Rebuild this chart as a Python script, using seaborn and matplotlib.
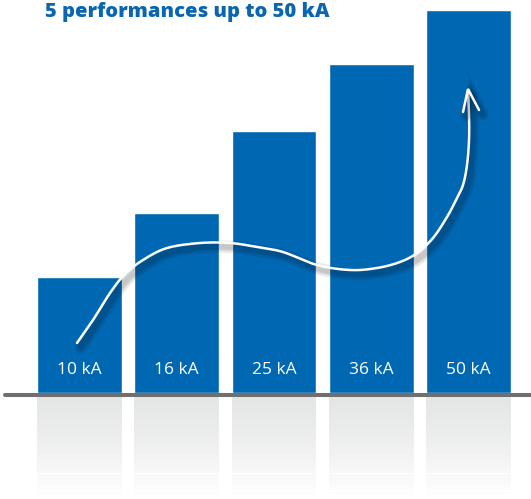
import numpy as np
import pandas as pd
import matplotlib
matplotlib.use("Agg")
import matplotlib.pyplot as plt
import matplotlib.patheffects as pe
import seaborn as sns

# -------------------------------
# Data (bar heights, in pixels above the baseline)
# -------------------------------
labels = ["10 kA", "16 kA", "25 kA", "36 kA", "50 kA"]
heights = [116, 180, 262, 329, 383]
title = "5 performances up to 50 kA"

# white arrow drawn over the bars (pixel coords of the picture)
arrow_x = [77, 93, 110, 125, 143, 167, 200, 230, 257, 283, 317, 350, 377,
           400, 417, 433, 447, 456, 463, 467, 469, 469, 468]
arrow_y = [343, 320, 293, 274, 260, 248, 243, 243, 247, 252, 265, 270, 268,
           262, 253, 238, 217, 200, 185, 165, 140, 115, 91]

blue = "#0068b3"

df = pd.DataFrame({"label": labels, "height": heights})

# -------------------------------
# Figure
# -------------------------------
sns.set_style("white")
plt.rcParams["font.family"] = ["Open Sans", "DejaVu Sans"]

fig = plt.figure(figsize=(5.31, 4.99), dpi=100)
ax = fig.add_axes([0, 0, 1, 1])

sns.barplot(data=df, x="label", y="height", color=blue, saturation=1,
            width=0.874, ax=ax, zorder=2)

# reflection below each bar (grey near the baseline, fading to white)
top = np.array([0.894, 0.898, 0.898])
n_strips = 60
edges = np.linspace(-4, -106, n_strips + 1)
xpos = np.arange(len(labels))
for k in range(n_strips):
    t = (k / (n_strips - 1)) ** 1.2
    col = top * (1 - t) + t
    ax.bar(xpos, edges[k + 1] - edges[k], bottom=edges[k], width=0.874,
           color=col, linewidth=0, zorder=1)

# labels inside bars
for i, lab in enumerate(labels):
    ax.text(i, 23, lab, color="white", ha="center", va="center",
            fontsize=12.5)

# baseline
ax.axhline(-1.5, xmin=5 / 531, xmax=1, color="#6f6f6f", lw=2.9, zorder=3)

ax.set_xlim((0 - 79.5) / 97.25, (531 - 79.5) / 97.25)
ax.set_ylim(-106, 393)
ax.axis("off")

fig.text(45 / 531, 1 - 17 / 499, title, color="#0a66b0", fontsize=14.5,
         fontweight="heavy", ha="left", va="baseline")

# -------------------------------
# Arrow overlay
# -------------------------------
ov = fig.add_axes([0, 0, 1, 1])
ov.set_xlim(0, 531)
ov.set_ylim(499, 0)
ov.axis("off")
ov.patch.set_alpha(0)

# Catmull-Rom smoothing of the arrow path
px = np.array(arrow_x, float)
py = np.array(arrow_y, float)
P = np.column_stack([px, py])
P = np.vstack([P[0], P, P[-1]])
pts = []
for k in range(1, len(P) - 2):
    p0, p1, p2, p3 = P[k - 1], P[k], P[k + 1], P[k + 2]
    for s in np.linspace(0, 1, 12, endpoint=False):
        pts.append(0.5 * ((2 * p1) + (-p0 + p2) * s
                          + (2 * p0 - 5 * p1 + 4 * p2 - p3) * s ** 2
                          + (-p0 + 3 * p1 - 3 * p2 + p3) * s ** 3))
pts.append(P[-2])
pts = np.array(pts)

shadow = [pe.SimpleLineShadow(offset=(2.5, -3), shadow_color="black",
                              alpha=0.08, linewidth=w) for w in (9, 6, 4)]
ov.plot(pts[:, 0], pts[:, 1], color="white", lw=1.8, solid_capstyle="round",
        path_effects=shadow + [pe.Normal()])
ov.plot([463, 468, 479], [112, 89, 110], color="white", lw=1.8,
        solid_capstyle="round", solid_joinstyle="miter",
        path_effects=shadow + [pe.Normal()])

fig.savefig("out.png", dpi=100)
